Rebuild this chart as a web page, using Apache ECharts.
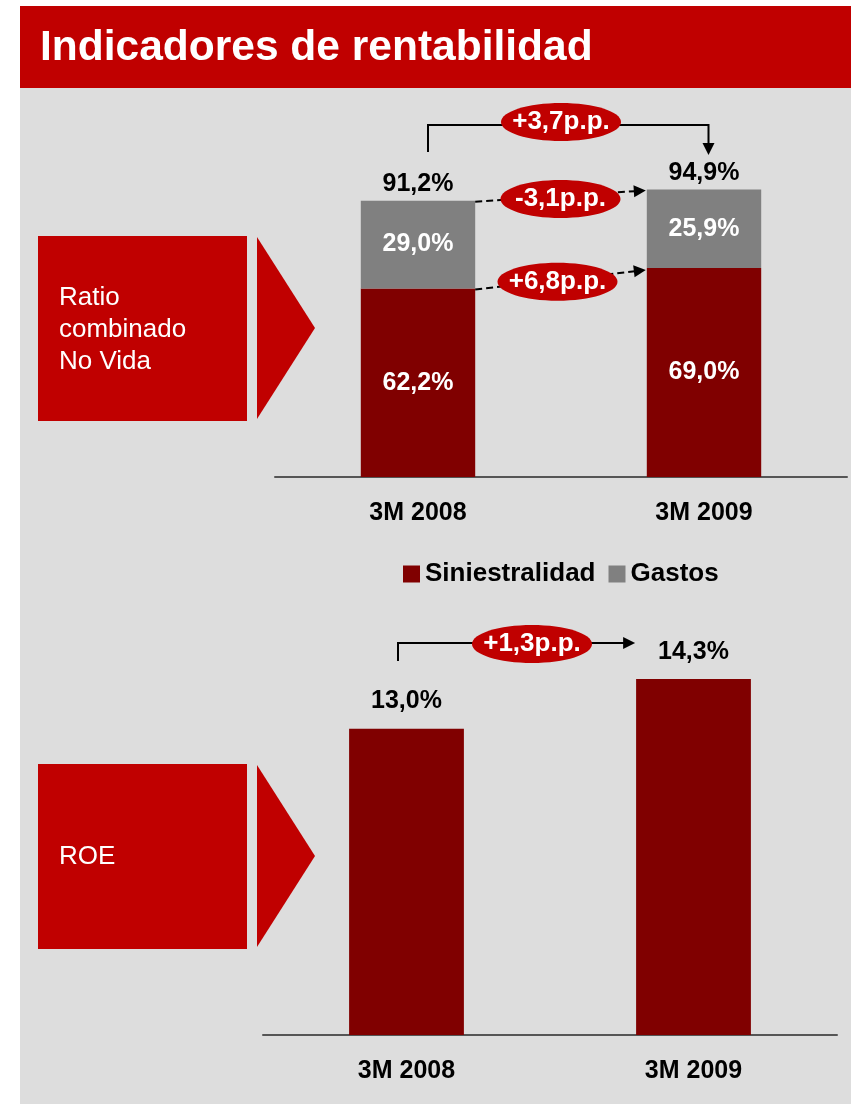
<!DOCTYPE html>
<html>
<head>
<meta charset="utf-8">
<script src="https://cdn.jsdelivr.net/npm/echarts@6/dist/echarts.min.js"></script>
<style>
  html, body { margin: 0; padding: 0; background: #fff; }
  #main { width: 851px; height: 1104px; }
</style>
</head>
<body>
<div id="main"></div>
<script>
// datos
var categories = ['3M 2008', '3M 2009']
var siniestralidad = [62.2, 69.0]
var gastos = [29.0, 25.9]
var ratioCombinado = [91.2, 94.9]
var roe = [13.0, 14.3]

var FONT = '"Liberation Sans", Arial, sans-serif'
var RED = '#c00000'
var DARK = '#800000'
var GREY = '#808080'

function fmt (v) { return v.toFixed(1).replace('.', ',') + '%' }
function fmtPP (d) { return (d >= 0 ? '+' : '-') + Math.abs(d).toFixed(1).replace('.', ',') + 'p.p.' }

var chart = echarts.init(document.getElementById('main'))

var boldLabel = { fontFamily: FONT, fontWeight: 'bold', fontSize: 25 }

chart.setOption({
  backgroundColor: '#ffffff',
  animation: false,
  grid: [
    { left: 275, top: 174, width: 572, height: 303 },
    { left: 263, top: 461, width: 574, height: 574 }
  ],
  legend: {
    data: ['Siniestralidad', 'Gastos'],
    left: 403,
    top: 561,
    padding: 0,
    icon: 'rect',
    itemWidth: 17,
    itemHeight: 17,
    itemGap: 13,
    textStyle: { color: '#000', fontFamily: FONT, fontWeight: 'bold', fontSize: 26 }
  },
  xAxis: [0, 1].map(function (i) {
    return {
      type: 'category',
      gridIndex: i,
      data: categories,
      axisLine: { lineStyle: { color: '#555', width: 2 } },
      axisTick: { show: false },
      axisLabel: Object.assign({ color: '#000', margin: 24 }, boldLabel)
    }
  }),
  yAxis: [
    { type: 'value', gridIndex: 0, min: 0, max: 100, show: false, splitLine: { show: false } },
    { type: 'value', gridIndex: 1, min: 5, max: 20, show: false, splitLine: { show: false } }
  ],
  series: [
    {
      name: 'Siniestralidad',
      type: 'bar',
      stack: 'ratio',
      barWidth: '40%',
      itemStyle: { color: DARK },
      label: Object.assign({ show: true, position: 'inside', color: '#fff', formatter: function (p) { return fmt(p.value) } }, boldLabel),
      data: siniestralidad
    },
    {
      name: 'Gastos',
      type: 'bar',
      stack: 'ratio',
      barWidth: '40%',
      itemStyle: { color: GREY },
      label: Object.assign({ show: true, position: 'inside', color: '#fff', formatter: function (p) { return fmt(p.value) } }, boldLabel),
      data: gastos
    },
    {
      // total del ratio combinado: barra invisible solo para la etiqueta
      name: 'Total',
      type: 'bar',
      barWidth: '40%',
      barGap: '-100%',
      silent: true,
      itemStyle: { color: 'rgba(0,0,0,0)' },
      label: Object.assign({ show: true, position: 'top', distance: 4, color: '#000', formatter: function (p) { return fmt(p.value) } }, boldLabel),
      data: ratioCombinado
    },
    {
      name: 'ROE',
      type: 'bar',
      xAxisIndex: 1,
      yAxisIndex: 1,
      barWidth: '40%',
      itemStyle: { color: DARK },
      label: Object.assign({ show: true, position: 'top', distance: 15, color: '#000', formatter: function (p) { return fmt(p.value) } }, boldLabel),
      data: roe
    }
  ]
})

// posiciones a partir de los ejes
var a1 = chart.convertToPixel({ gridIndex: 0 }, [0, ratioCombinado[0]])
var a2 = chart.convertToPixel({ gridIndex: 0 }, [1, ratioCombinado[1]])
var m1 = chart.convertToPixel({ gridIndex: 0 }, [0, siniestralidad[0]])
var m2 = chart.convertToPixel({ gridIndex: 0 }, [1, siniestralidad[1]])
var half = (a2[0] - a1[0]) * 0.2
var r1 = chart.convertToPixel({ gridIndex: 1 }, [0, roe[0]])
var r2 = chart.convertToPixel({ gridIndex: 1 }, [1, roe[1]])
var rhalf = (r2[0] - r1[0]) * 0.2

function line (pts, dashed) {
  return {
    type: 'polyline', z: 10,
    shape: { points: pts },
    style: { stroke: '#000', lineWidth: 2, fill: null, lineDash: dashed ? [7, 4] : null }
  }
}
function head (tip, from, len, w) {
  var dx = tip[0] - from[0], dy = tip[1] - from[1]
  var l = Math.sqrt(dx * dx + dy * dy)
  var ux = dx / l, uy = dy / l
  var bx = tip[0] - ux * len, by = tip[1] - uy * len
  return {
    type: 'polygon', z: 10,
    shape: { points: [tip, [bx - uy * w, by + ux * w], [bx + uy * w, by - ux * w]] },
    style: { fill: '#000' }
  }
}
function pill (cx, cy, txt) {
  return [
    { type: 'ellipse', z: 11, shape: { cx: cx, cy: cy, rx: 60, ry: 19 }, style: { fill: RED } },
    { type: 'text', z: 12, x: cx, y: cy, style: { text: txt, fill: '#fff', font: 'bold 26px ' + FONT, align: 'center', verticalAlign: 'middle' } }
  ]
}
function arrow (from, tip, dashed) {
  var dx = tip[0] - from[0], dy = tip[1] - from[1]
  var l = Math.sqrt(dx * dx + dy * dy)
  var end = [tip[0] - dx / l * 11, tip[1] - dy / l * 11]
  return [line([from, end], dashed), head(tip, from, 12, 6)]
}

var g = [
  { type: 'rect', z: 0, shape: { x: 20, y: 88, width: 831, height: 1016 }, style: { fill: '#dddddd' } },
  { type: 'rect', z: 0, shape: { x: 20, y: 6, width: 831, height: 82 }, style: { fill: RED } },
  { type: 'text', z: 1, x: 40, y: 48, style: { text: 'Indicadores de rentabilidad', fill: '#fff', font: 'bold 42.5px ' + FONT, verticalAlign: 'middle' } },
  // cajas laterales
  { type: 'rect', z: 1, shape: { x: 38, y: 236, width: 209, height: 185 }, style: { fill: RED } },
  { type: 'polygon', z: 1, shape: { points: [[257, 237], [315, 328], [257, 419]] }, style: { fill: RED } },
  { type: 'text', z: 2, x: 59, y: 330, style: { text: 'Ratio\ncombinado\nNo Vida', fill: '#fff', font: '26px ' + FONT, lineHeight: 32, verticalAlign: 'middle' } },
  { type: 'rect', z: 1, shape: { x: 38, y: 764, width: 209, height: 185 }, style: { fill: RED } },
  { type: 'polygon', z: 1, shape: { points: [[257, 765], [315, 856], [257, 947]] }, style: { fill: RED } },
  { type: 'text', z: 2, x: 59, y: 857, style: { text: 'ROE', fill: '#fff', font: '26px ' + FONT, verticalAlign: 'middle' } }
]

// flecha superior +3,7
var xs = a1[0] + 10, xe = a2[0] + 4.5
g.push(line([[xs, 152], [xs, 125], [xe, 125], [xe, 143]]))
g.push(head([xe, 155], [xe, 125], 12, 6))
g = g.concat(pill((a1[0] + a2[0]) / 2, 122, fmtPP(ratioCombinado[1] - ratioCombinado[0])))

// flechas discontinuas
var f1 = [a1[0] + half, a1[1] + 1], t1 = [a2[0] - half - 1, a2[1] + 1]
g = g.concat(arrow(f1, t1, true))
g = g.concat(pill((f1[0] + t1[0]) / 2, (f1[1] + t1[1]) / 2 + 3, fmtPP(gastos[1] - gastos[0])))
var f2 = [m1[0] + half, m1[1] + 1], t2 = [m2[0] - half - 1, m2[1] + 2]
g = g.concat(arrow(f2, t2, true))
g = g.concat(pill((f2[0] + t2[0]) / 2 - 3, (f2[1] + t2[1]) / 2 + 2, fmtPP(siniestralidad[1] - siniestralidad[0])))

// flecha ROE
var rx = r1[0] - 8.5, rt = r2[0] - rhalf - 1
g.push(line([[rx, 661], [rx, 643], [rt - 11, 643]]))
g.push(head([rt, 643], [rx, 643], 12, 6))
g = g.concat(pill((r1[0] + r2[0]) / 2 - 18, 644, fmtPP(roe[1] - roe[0])))

chart.setOption({ graphic: g })
</script>
</body>
</html>
